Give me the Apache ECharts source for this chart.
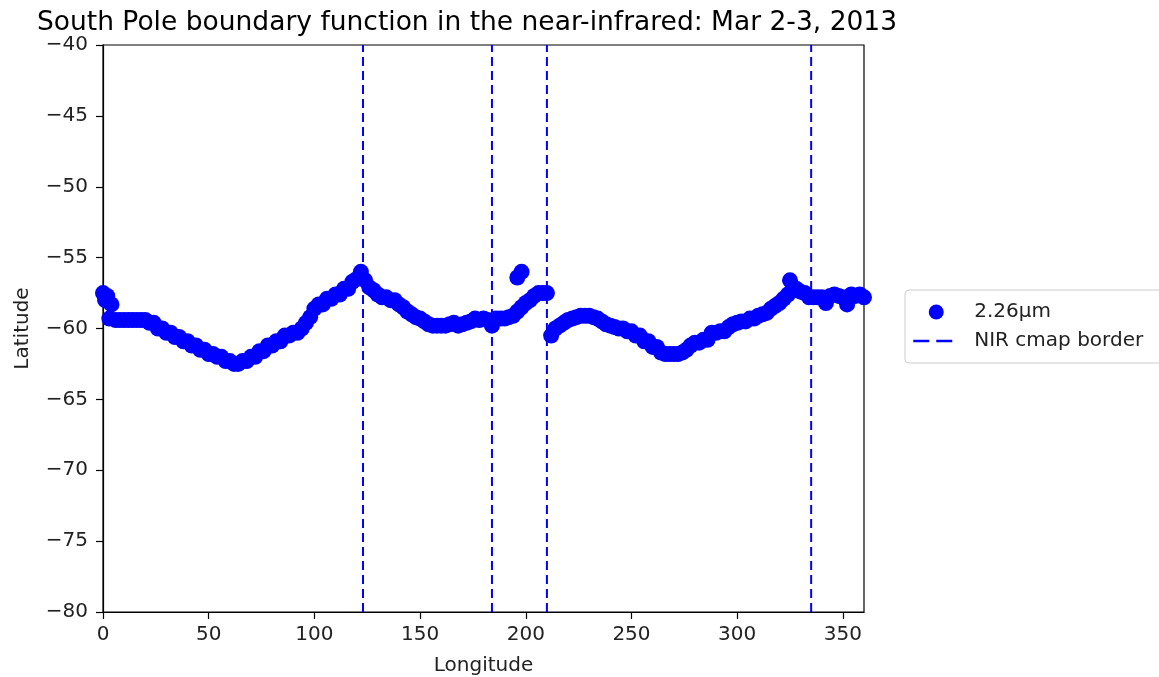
<!DOCTYPE html>
<html>
<head>
<meta charset="utf-8">
<script src="https://cdn.jsdelivr.net/npm/echarts@6/dist/echarts.min.js"></script>
<style>html,body{margin:0;padding:0;background:#fff;}#c{width:1159px;height:677px;}</style>
</head>
<body>
<div id="c"></div>
<script>
const titleText = "South Pole boundary function in the near-infrared: Mar 2-3, 2013";
const seriesName = "2.26µm";
const borderName = "NIR cmap border";
const lons = [0,2,4,6,8,10,12,14,16,18,20,22,24,26,28,30,32,34,36,38,40,42,44,46,48,50,52,54,56,58,60,62,64,66,68,70,72,74,76,78,80,82,84,86,88,90,92,94,96,98,100,102,104,106,108,110,112,114,116,118,120,122,124,126,128,130,132,134,136,138,140,142,144,146,148,150,152,154,156,158,160,162,164,166,168,170,172,174,176,178,180,182,184,186,188,190,192,194,196,198,200,202,204,206,208,210,212,214,216,218,220,222,224,226,228,230,232,234,236,238,240,242,244,246,248,250,252,254,256,258,260,262,264,266,268,270,272,274,276,278,280,282,284,286,288,290,292,294,296,298,300,302,304,306,308,310,312,314,316,318,320,322,324,326,328,330,332,334,336,338,340,342,344,346,348,350,352,354,356,358,360,196,198,325,1,3];
const lats = [-57.5,-57.7,-58.3,-59.4,-59.4,-59.4,-59.4,-59.4,-59.4,-59.4,-59.4,-59.6,-59.6,-60.0,-60.0,-60.3,-60.3,-60.6,-60.6,-60.9,-60.9,-61.2,-61.2,-61.5,-61.5,-61.8,-61.8,-62.0,-62.0,-62.3,-62.3,-62.5,-62.5,-62.3,-62.3,-62.0,-62.0,-61.6,-61.6,-61.2,-61.2,-60.9,-60.9,-60.5,-60.5,-60.3,-60.3,-60.0,-59.6,-59.2,-58.6,-58.3,-58.3,-57.9,-57.9,-57.6,-57.6,-57.2,-57.2,-56.7,-56.5,-56.0,-56.6,-57.1,-57.3,-57.6,-57.8,-57.8,-58.0,-58.0,-58.3,-58.5,-58.8,-59.0,-59.2,-59.3,-59.5,-59.7,-59.8,-59.8,-59.8,-59.8,-59.7,-59.6,-59.8,-59.7,-59.6,-59.5,-59.3,-59.4,-59.3,-59.4,-59.8,-59.3,-59.3,-59.3,-59.2,-59.1,-58.8,-58.5,-58.2,-58.0,-57.7,-57.5,-57.5,-57.5,-60.5,-60.0,-59.8,-59.6,-59.4,-59.3,-59.2,-59.1,-59.1,-59.1,-59.2,-59.3,-59.5,-59.7,-59.8,-59.9,-60.0,-60.0,-60.2,-60.2,-60.5,-60.5,-60.9,-60.9,-61.3,-61.3,-61.7,-61.8,-61.8,-61.8,-61.8,-61.7,-61.5,-61.2,-61.0,-61.0,-60.8,-60.8,-60.3,-60.3,-60.2,-60.2,-59.9,-59.7,-59.6,-59.5,-59.5,-59.3,-59.3,-59.1,-59.0,-58.9,-58.6,-58.4,-58.2,-57.9,-57.6,-57.3,-57.2,-57.4,-57.5,-57.8,-57.8,-57.8,-57.8,-58.2,-57.7,-57.6,-57.7,-57.8,-58.3,-57.6,-57.7,-57.6,-57.8,-56.4,-56.0,-56.6,-58.0,-59.3];
const borderLons = [123, 184, 210, 335];
const xTicks = {min: 0, max: 360, interval: 50};
const yTicks = {min: -80, max: -40, interval: 5};

const FONT = "DejaVu Sans";
const minus = v => String(v).replace('-', '\u2212');

const chart = echarts.init(document.getElementById('c'), null, {renderer: 'canvas'});
const points = lons.map((x, i) => [x, lats[i]]);
const borderSeries = borderLons.map((x, i) => ({
  name: borderName,
  type: 'line',
  data: [[x, yTicks.min], [x, yTicks.max]],
  symbol: 'none',
  silent: true,
  z: 3,
  lineStyle: {color: '#0000ff', width: 2, type: [9, 5]},
  itemStyle: {color: 'rgba(0,0,0,0)'}
}));

chart.setOption({
  animation: false,
  backgroundColor: '#fff',
  textStyle: {fontFamily: FONT},
  title: {
    text: titleText,
    left: 462,
    top: 5,
    textAlign: 'center',
    textStyle: {fontFamily: FONT, fontSize: 26.5, fontWeight: 'normal', color: '#000'}
  },
  grid: {left: 103, right: 295, top: 45, bottom: 65, show: true, borderColor: '#000', borderWidth: 1.2, backgroundColor: 'transparent', containLabel: false, outerBoundsMode: 'none'},
  legend: {
    orient: 'vertical',
    left: 905,
    top: 290,
    padding: [12, 20, 12, 7],
    itemWidth: 46,
    itemHeight: 15,
    itemGap: 9,
    borderColor: '#ccc',
    borderWidth: 1,
    borderRadius: 4,
    backgroundColor: '#fff',
    textStyle: {fontFamily: FONT, fontSize: 20, color: '#222', padding: [0, 0, 0, 10]},
    data: [
      {name: seriesName, icon: 'circle', itemStyle: {color: '#0000ff'}},
      {name: borderName, itemStyle: {color: 'rgba(0,0,0,0)', borderWidth: 0, opacity: 0}, lineStyle: {color: '#0000ff', width: 2.5, type: [16, 7], opacity: 1}}
    ]
  },
  xAxis: {
    type: 'value',
    min: xTicks.min, max: xTicks.max, interval: xTicks.interval,
    name: 'Longitude', nameLocation: 'middle', nameGap: 44,
    nameTextStyle: {fontFamily: FONT, fontSize: 20, color: '#222'},
    splitLine: {show: false},
    axisLine: {show: true, onZero: false, lineStyle: {color: '#000', width: 1.2}},
    axisTick: {show: true, inside: false, length: 7, lineStyle: {color: '#000', width: 1.2}},
    axisLabel: {fontFamily: FONT, fontSize: 20, color: '#222', margin: 13, showMaxLabel: false, formatter: v => v === 360 ? '' : minus(v)}
  },
  yAxis: {
    type: 'value',
    min: yTicks.min, max: yTicks.max, interval: yTicks.interval,
    name: 'Latitude', nameLocation: 'middle', nameGap: 70, nameRotate: 90,
    nameTextStyle: {fontFamily: FONT, fontSize: 20, color: '#222'},
    splitLine: {show: false},
    axisLine: {show: true, onZero: false, lineStyle: {color: '#000', width: 1.2}},
    axisTick: {show: true, inside: false, length: 7, lineStyle: {color: '#000', width: 1.2}},
    axisLabel: {fontFamily: FONT, fontSize: 20, color: '#222', margin: 15, formatter: v => minus(v)}
  },
  series: [
    {
      name: seriesName,
      type: 'scatter',
      data: points,
      symbol: 'circle',
      symbolSize: 16,
      z: 2,
      itemStyle: {color: '#0000ff', opacity: 1}
    }
  ].concat(borderSeries)
});
</script>
</body>
</html>
